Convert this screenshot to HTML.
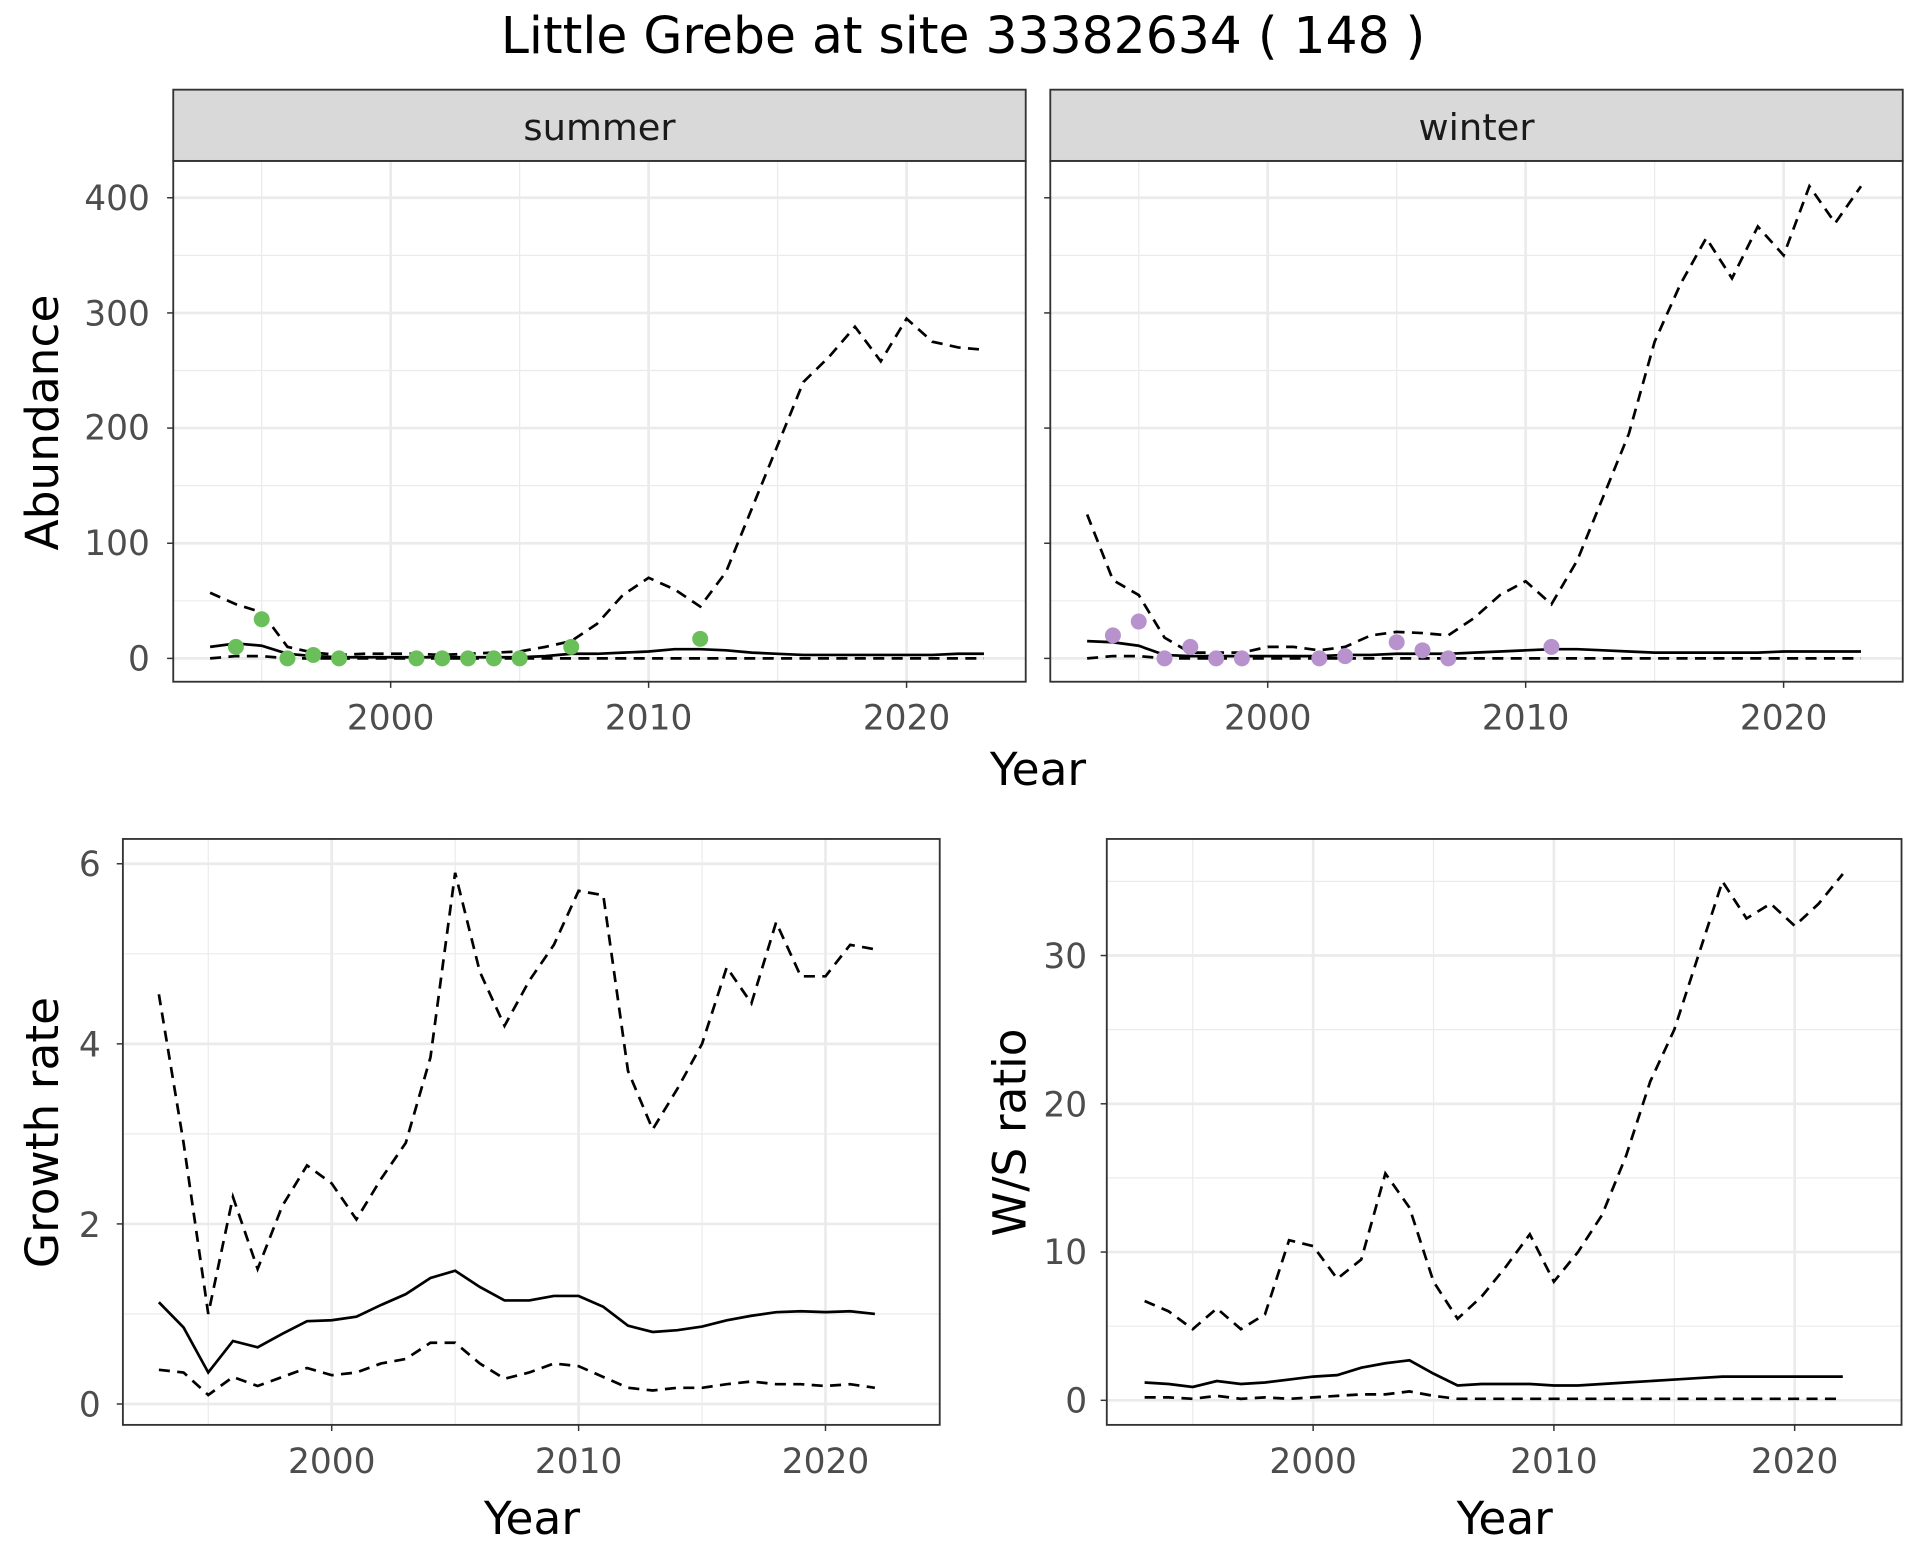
<!DOCTYPE html>
<html><head><meta charset="utf-8"><style>
html,body{margin:0;padding:0;background:#fff}
svg{display:block}
text{font-family:"DejaVu Sans","Liberation Sans",sans-serif}
.tk{font-size:28px;fill:#4d4d4d}
.ax{font-size:37px;fill:#000}
</style></head><body>
<svg id="s" width="1920" height="1560" viewBox="0 0 1563 1270" xmlns="http://www.w3.org/2000/svg">
<rect width="1563" height="1270" fill="#fff"/>
<g id="g"></g>
<text x="784" y="43" text-anchor="middle" style="font-size:41px">Little Grebe at site 33382634 ( 148 )</text>
<rect x="141" y="73" width="694" height="58" fill="#d9d9d9" stroke="#333" stroke-width="1.5"/>
<rect x="855" y="73" width="694" height="58" fill="#d9d9d9" stroke="#333" stroke-width="1.5"/>
<text x="488" y="114" text-anchor="middle" style="font-size:30px;fill:#1a1a1a">summer</text>
<text x="1202" y="114" text-anchor="middle" style="font-size:30px;fill:#1a1a1a">winter</text>
<text class="tk" x="122" y="171" text-anchor="end">400</text>
<text class="tk" x="122" y="265" text-anchor="end">300</text>
<text class="tk" x="122" y="358" text-anchor="end">200</text>
<text class="tk" x="122" y="452" text-anchor="end">100</text>
<text class="tk" x="122" y="546" text-anchor="end">0</text>
<text class="tk" x="318" y="594" text-anchor="middle">2000</text>
<text class="tk" x="528" y="594" text-anchor="middle">2010</text>
<text class="tk" x="738" y="594" text-anchor="middle">2020</text>
<text class="tk" x="1032" y="594" text-anchor="middle">2000</text>
<text class="tk" x="1242" y="594" text-anchor="middle">2010</text>
<text class="tk" x="1452" y="594" text-anchor="middle">2020</text>
<text class="ax" x="845" y="639" text-anchor="middle">Year</text>
<text class="ax" transform="translate(47,344) rotate(-90)" text-anchor="middle">Abundance</text>
<text class="tk" x="82" y="713" text-anchor="end">6</text>
<text class="tk" x="82" y="860" text-anchor="end">4</text>
<text class="tk" x="82" y="1007" text-anchor="end">2</text>
<text class="tk" x="82" y="1153" text-anchor="end">0</text>
<text class="tk" x="270" y="1199" text-anchor="middle">2000</text>
<text class="tk" x="471" y="1199" text-anchor="middle">2010</text>
<text class="tk" x="672" y="1199" text-anchor="middle">2020</text>
<text class="ax" x="433" y="1249" text-anchor="middle">Year</text>
<text class="ax" transform="translate(47,922) rotate(-90)" text-anchor="middle">Growth rate</text>
<text class="tk" x="885" y="788" text-anchor="end">30</text>
<text class="tk" x="885" y="909" text-anchor="end">20</text>
<text class="tk" x="885" y="1029" text-anchor="end">10</text>
<text class="tk" x="885" y="1150" text-anchor="end">0</text>
<text class="tk" x="1069" y="1199" text-anchor="middle">2000</text>
<text class="tk" x="1265" y="1199" text-anchor="middle">2010</text>
<text class="tk" x="1461" y="1199" text-anchor="middle">2020</text>
<text class="ax" x="1225" y="1249" text-anchor="middle">Year</text>
<text class="ax" transform="translate(835,922) rotate(-90)" text-anchor="middle">W/S ratio</text>
</svg>
<script>
var g=document.getElementById('g'),NS='http://www.w3.org/2000/svg';
function el(t,a){var e=document.createElementNS(NS,t);for(var k in a)e.setAttribute(k,a[k]);g.appendChild(e);return e;}
function ext(a,b){var o={};for(var k in a)o[k]=a[k];for(var k2 in b)o[k2]=b[k2];return o;}
function panel(p){
 var X=function(v){return p.x0+(v-2000)*p.xs},Y=function(v){return p.y0-v*p.ys};
 el('rect',{x:p.l,y:p.t,width:p.r-p.l,height:p.b-p.t,fill:'#fff'});
 p.ymin.forEach(function(v){el('line',{x1:p.l,x2:p.r,y1:Y(v),y2:Y(v),stroke:'#ebebeb','stroke-width':1})});
 [1995,2005,2015].forEach(function(v){el('line',{x1:X(v),x2:X(v),y1:p.t,y2:p.b,stroke:'#ebebeb','stroke-width':1})});
 p.ymaj.forEach(function(v){el('line',{x1:p.l,x2:p.r,y1:Y(v),y2:Y(v),stroke:'#ebebeb','stroke-width':2.2})});
 [2000,2010,2020].forEach(function(v){el('line',{x1:X(v),x2:X(v),y1:p.t,y2:p.b,stroke:'#ebebeb','stroke-width':2.2})});
 p.lines.forEach(function(L){var s=L[0].map(function(v,i){return X(1993+i)+','+Y(v)}).join(' ');
  el('polyline',{points:s,fill:'none',stroke:'#000','stroke-width':2.2,'stroke-dasharray':L[1]?'9,6':'none'})});
 (p.pts||[]).forEach(function(q){el('circle',{cx:X(q[0]),cy:Y(q[1]),r:6.5,fill:p.col})});
 el('rect',{x:p.l,y:p.t,width:p.r-p.l,height:p.b-p.t,fill:'none',stroke:'#333','stroke-width':1.5});
 p.ymaj.forEach(function(v){el('line',{x1:p.l-5,x2:p.l,y1:Y(v),y2:Y(v),stroke:'#333','stroke-width':1.2})});
 [2000,2010,2020].forEach(function(v){el('line',{x1:X(v),x2:X(v),y1:p.b,y2:p.b+5,stroke:'#333','stroke-width':1.2})});
}
function z(n,v){var a=[];for(var i=0;i<n;i++)a.push(v);return a}
var sU=[57,47,40,10,5,3,4,4,4,3,4,5,6,10,15,30,55,70,60,45,75,130,185,240,262,288,258,295,275,270,268];
var sM=[10,13,11,4,2,1,1,1,1,1,1,1,1,2,4,4,5,6,8,8,7,5,4,3,3,3,3,3,3,4,4];
var sL=[0,2,2].concat(z(28,0));
var wU=[125,68,55,18,5,5,5,10,10,7,10,20,23,22,20,35,55,67,47,85,140,195,275,325,365,330,375,350,410,378,410];
var wM=[15,14,11,3,2,2,2,2,2,2,3,3,4,4,4,5,6,7,8,8,7,6,5,5,5,5,5,6,6,6,6];
var wL=[0,2,2].concat(z(28,0));
var topCfg={t:131,b:555,y0:536,ys:0.9375,xs:21,ymaj:[0,100,200,300,400],ymin:[50,150,250,350]};
panel(ext(topCfg,{l:141,r:835,x0:318,col:'#6abf5a',lines:[[sU,1],[sM,0],[sL,1]],
 pts:[[1994,10],[1995,34],[1996,0],[1997,3],[1998,0],[2001,0],[2002,0],[2003,0],[2004,0],[2005,0],[2007,10],[2012,17]]}));
panel(ext(topCfg,{l:855,r:1549,x0:1032,col:'#b792cc',lines:[[wU,1],[wM,0],[wL,1]],
 pts:[[1994,20],[1995,32],[1996,0],[1997,10],[1998,0],[1999,0],[2002,0],[2003,2],[2005,14],[2006,7],[2007,0],[2011,10]]}));
var gU=[4.55,2.9,1.0,2.3,1.5,2.2,2.65,2.45,2.05,2.5,2.9,3.85,5.9,4.8,4.2,4.7,5.1,5.7,5.65,3.7,3.05,3.5,4.0,4.85,4.45,5.35,4.75,4.75,5.1,5.05];
var gM=[1.13,0.85,0.35,0.7,0.63,0.78,0.92,0.93,0.97,1.1,1.22,1.4,1.48,1.3,1.15,1.15,1.2,1.2,1.08,0.87,0.8,0.82,0.86,0.93,0.98,1.02,1.03,1.02,1.03,1.0];
var gL=[0.38,0.35,0.1,0.3,0.2,0.3,0.4,0.32,0.35,0.45,0.5,0.68,0.68,0.45,0.28,0.35,0.45,0.42,0.3,0.18,0.15,0.18,0.18,0.22,0.25,0.22,0.22,0.2,0.22,0.18];
panel({l:100,r:765,t:683,b:1160,x0:270,xs:20.1,y0:1143,ys:73.3,ymaj:[0,2,4,6],ymin:[1,3,5],lines:[[gU,1],[gM,0],[gL,1]]});
var rU=[6.7,6,4.8,6.2,4.8,5.8,10.8,10.4,8.2,9.5,15.3,13,8,5.5,7,9,11.2,8,10,12.5,16.5,21.5,25,30,35,32.5,33.5,32,33.5,35.5];
var rM=[1.2,1.1,0.9,1.3,1.1,1.2,1.4,1.6,1.7,2.2,2.5,2.7,1.8,1.0,1.1,1.1,1.1,1.0,1.0,1.1,1.2,1.3,1.4,1.5,1.6,1.6,1.6,1.6,1.6,1.6];
var rL=[0.2,0.2,0.1,0.3,0.1,0.2,0.1,0.2,0.3,0.4,0.4,0.6,0.3,0.1].concat(z(16,0.1));
panel({l:901,r:1548,t:683,b:1160,x0:1069,xs:19.6,y0:1140,ys:12.07,ymaj:[0,10,20,30],ymin:[5,15,25,35],lines:[[rU,1],[rM,0],[rL,1]]});
</script>
</body></html>
